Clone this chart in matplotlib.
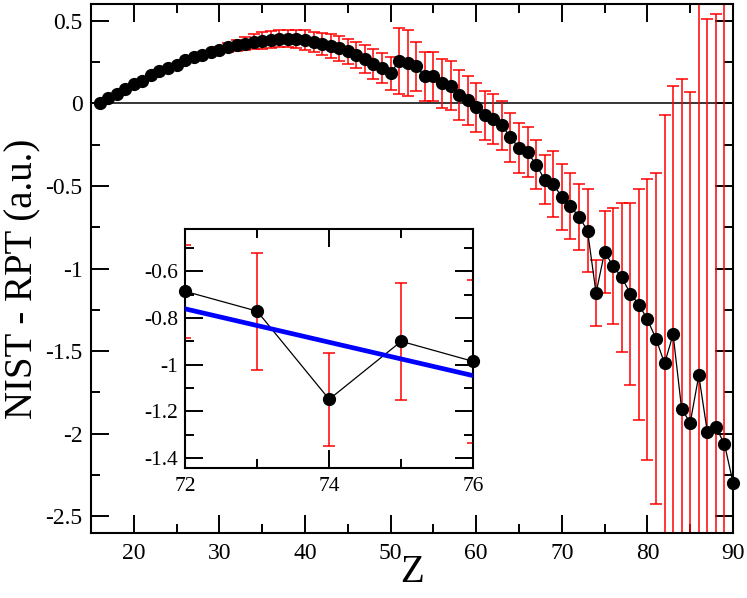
import numpy as np
import matplotlib
matplotlib.use('Agg')
import matplotlib.pyplot as plt
from matplotlib.ticker import MultipleLocator, FuncFormatter

plt.rcParams['font.family'] = ['Liberation Serif', 'DejaVu Serif']
plt.rcParams['axes.unicode_minus'] = False

# Z = 16 .. 90
z = np.arange(16, 91)
diff = [0.0, 0.029, 0.057, 0.086, 0.116, 0.136, 0.168, 0.192, 0.214, 0.233,
        0.259, 0.277, 0.293, 0.309, 0.323, 0.337, 0.349, 0.361, 0.372, 0.379,
        0.385, 0.390, 0.390, 0.388, 0.382, 0.372, 0.358, 0.346, 0.331, 0.313,
        0.293, 0.269, 0.239, 0.213, 0.182, 0.255, 0.243, 0.222, 0.162, 0.162,
        0.120, 0.107, 0.051, 0.017, -0.025, -0.074, -0.096, -0.134, -0.207, -0.271,
        -0.297, -0.372, -0.462, -0.488, -0.569, -0.624, -0.686, -0.771, -1.148, -0.900,
        -0.986, -1.053, -1.152, -1.218, -1.308, -1.425, -1.574, -1.399, -1.852, -1.932,
        -1.647, -1.989, -1.959, -2.063, -2.295]
err = [0, 0, 0, 0, 0, 0, 0, 0, 0, 0,
       0, 0, 0, 0, 0.015, 0.025, 0.035, 0.04, 0.045, 0.05,
       0.05, 0.05, 0.05, 0.055, 0.06, 0.06, 0.065, 0.07, 0.075, 0.075,
       0.08, 0.085, 0.09, 0.09, 0.1, 0.2, 0.2, 0.15, 0.15, 0.15,
       0.15, 0.15, 0.15, 0.15, 0.15, 0.15, 0.15, 0.15, 0.15, 0.15,
       0.15, 0.15, 0.15, 0.2, 0.2, 0.2, 0.2, 0.25, 0.2, 0.25,
       0.35, 0.45, 0.55, 0.7, 0.85, 1.0, 1.5, 1.5, 2.0, 2.0,
       2.5, 2.5, 2.5, 3.0, 0]

# straight line shown in the inset
fit_z = [72, 76]
fit_val = [-0.761, -1.047]

diff = np.array(diff)
err = np.array(err)

fmt = FuncFormatter(lambda v, p: '%g' % round(v, 3))

fig = plt.figure(figsize=(7.47, 5.98), dpi=100)
ax = fig.add_axes([0.1218, 0.1087, 0.8595, 0.8846])

ax.axhline(0, color='black', lw=1.1, zorder=1)
ax.errorbar(z, diff, yerr=err, fmt='none', ecolor='red', elinewidth=1.1,
            capsize=4.5, capthick=1.1, zorder=2)
ax.plot(z, diff, '-o', color='black', lw=0.9, ms=8.5, clip_on=False, zorder=3)

ax.set_xlim(15, 90)
ax.set_ylim(-2.6, 0.6)
ax.xaxis.set_major_locator(MultipleLocator(10))
ax.xaxis.set_minor_locator(MultipleLocator(5))
ax.yaxis.set_major_locator(MultipleLocator(0.5))
ax.yaxis.set_minor_locator(MultipleLocator(0.25))
ax.yaxis.set_major_formatter(fmt)
ax.tick_params(which='both', direction='in', top=True, right=True, width=1.4)
ax.tick_params(which='major', length=13, labelsize=17)
ax.tick_params(axis='y', which='major', pad=6)
ax.tick_params(axis='x', which='major', pad=7)
ax.tick_params(which='minor', length=6.5)
for s in ax.spines.values():
    s.set_linewidth(1.5)

ax.set_xlabel('Z', fontsize=28)
ax.set_ylabel('NIST - RPT (a.u.)', fontsize=28)
ax.xaxis.set_label_coords(0.5, -0.040)
ax.yaxis.set_label_coords(-0.077, 0.48)

# inset
ins = fig.add_axes([0.2477, 0.2181, 0.3859, 0.3988])
ins.errorbar(z, diff, yerr=err, fmt='none', ecolor='red', elinewidth=1.1,
             capsize=4.5, capthick=1.1, zorder=2)
sel = (z >= 72) & (z <= 76)
ins.plot(z[sel], diff[sel], '-o', color='black', lw=0.9, ms=8.5, clip_on=False, zorder=3)
ins.plot(fit_z, fit_val, color='blue', lw=3.4, zorder=4)
ins.set_xlim(72, 76)
ins.set_ylim(-1.44, -0.42)
ins.xaxis.set_major_locator(MultipleLocator(2))
ins.xaxis.set_minor_locator(MultipleLocator(1))
ins.yaxis.set_major_locator(MultipleLocator(0.2))
ins.yaxis.set_minor_locator(MultipleLocator(0.1))
ins.yaxis.set_major_formatter(fmt)
ins.tick_params(which='both', direction='in', top=True, right=True, width=1.4)
ins.tick_params(which='major', length=13, labelsize=15.5)
ins.tick_params(axis='y', which='major', pad=5)
ins.tick_params(axis='x', which='major', pad=7)
ins.tick_params(which='minor', length=6.5)
for s in ins.spines.values():
    s.set_linewidth(1.5)

fig.savefig('out.png', dpi=100)
